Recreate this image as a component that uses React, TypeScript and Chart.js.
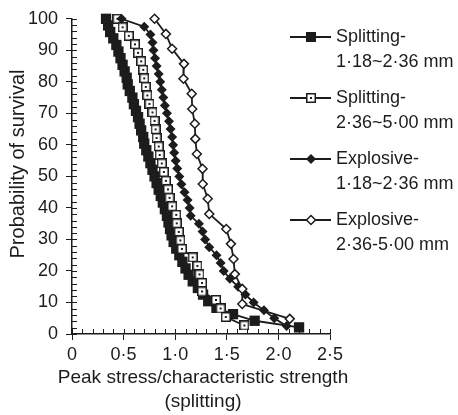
import React, { useEffect, useRef } from 'react';
import { Chart, registerables } from 'chart.js';
Chart.register(...registerables);

const FONT = '"Liberation Sans", Arial, sans-serif';
const INK = '#1c1c1c';

// Splitting 1·18~2·36 mm (filled squares)
const splitSmallX = [0.33, 0.35, 0.37, 0.40, 0.43, 0.45, 0.47, 0.49, 0.51, 0.53,
  0.54, 0.56, 0.585, 0.60, 0.62, 0.64, 0.655, 0.67, 0.69, 0.70,
  0.72, 0.74, 0.76, 0.78, 0.80, 0.82, 0.84, 0.86, 0.88, 0.90,
  0.92, 0.935, 0.95, 0.965, 0.985, 1.01, 1.04, 1.07, 1.10, 1.13,
  1.17, 1.22, 1.27, 1.32, 1.40, 1.56, 1.77, 2.20];
const splitSmallP = [100, 97.9, 95.8, 93.8, 91.7, 89.6, 87.5, 85.4, 83.3, 81.3,
  79.2, 77.1, 75, 72.9, 70.8, 68.8, 66.7, 64.6, 62.5, 60.4,
  58.3, 56.3, 54.2, 52.1, 50, 47.9, 45.8, 43.8, 41.7, 39.6,
  37.5, 35.4, 33.3, 31.3, 29.2, 27.1, 25, 22.9, 20.8, 18.8,
  16.7, 14.6, 12.5, 10.4, 8.3, 6.3, 4.2, 2.1];

// Splitting 2·36~5·00 mm (open squares)
const splitLargeX = [0.44, 0.49, 0.55, 0.61, 0.64, 0.67, 0.69, 0.70, 0.715, 0.73,
  0.75, 0.78, 0.80, 0.81, 0.82, 0.84, 0.85, 0.87, 0.89, 0.91,
  0.93, 0.945, 0.97, 1.01, 1.015, 1.035, 1.05, 1.065, 1.17, 1.215,
  1.235, 1.26, 1.26, 1.395, 1.44, 1.49, 1.67];
const splitLargeP = [100, 97.3, 94.6, 91.9, 89.2, 86.5, 83.8, 81.1, 78.4, 75.7,
  73, 70.3, 67.6, 64.9, 62.2, 59.5, 56.8, 54.1, 51.4, 48.6,
  45.9, 43.2, 40.5, 37.8, 35.1, 32.4, 29.7, 27, 24.3, 21.6,
  18.9, 16.2, 13.5, 10.8, 8.1, 5.4, 2.7];

// Explosive 1·18~2·36 mm (filled diamonds)
const explSmallX = [0.48, 0.70, 0.76, 0.78, 0.79, 0.805, 0.82, 0.84, 0.855, 0.87,
  0.885, 0.90, 0.92, 0.94, 0.955, 0.97, 0.98, 0.99, 1.005, 1.02,
  1.04, 1.06, 1.09, 1.12, 1.14, 1.15, 1.23, 1.265, 1.29, 1.33,
  1.40, 1.44, 1.47, 1.53, 1.61, 1.68, 1.76, 1.86, 1.96, 2.08];
const explSmallP = [100, 97.5, 95, 92.5, 90, 87.5, 85, 82.5, 80, 77.5,
  75, 72.5, 70, 67.5, 65, 62.5, 60, 57.5, 55, 52.5,
  50, 47.5, 45, 42.5, 40, 37.5, 35, 32.5, 30, 27.5,
  25, 22.5, 20, 17.5, 15, 12.5, 10, 7.5, 5, 2.5];

// Explosive 2·36-5·00 mm (open diamonds)
const explLargeX = [0.80, 0.91, 0.97, 1.085, 1.08, 1.16, 1.165, 1.19, 1.195, 1.21,
  1.265, 1.267, 1.315, 1.33, 1.495, 1.54, 1.565, 1.578, 1.65, 1.65, 2.11];
const explLargeP = [100, 95.2, 90.5, 85.7, 81, 76.2, 71.4, 66.7, 61.9, 57.1,
  52.4, 47.6, 42.9, 38.1, 33.3, 28.6, 23.8, 19, 14.3, 9.5, 4.8];

const legendLines = [
  ['Splitting-', '1·18~2·36 mm'],
  ['Splitting-', '2·36~5·00 mm'],
  ['Explosive-', '1·18~2·36 mm'],
  ['Explosive-', '2·36-5·00 mm'],
];

const xTitle = ['Peak stress/characteristic strength', '(splitting)'];
const yTitle = 'Probability of survival';

function openSquare(): HTMLCanvasElement {
  const c = document.createElement('canvas');
  c.width = 10; c.height = 10;
  const g = c.getContext('2d')!;
  g.fillStyle = '#fff';
  g.fillRect(0, 0, 10, 10);
  g.strokeStyle = INK;
  g.lineWidth = 1.5;
  g.strokeRect(0.75, 0.75, 8.5, 8.5);
  g.fillStyle = INK;
  g.fillRect(4, 4, 2, 2);
  return c;
}

const pts = (xs: number[], ps: number[]) => xs.map((x, i) => ({ x, y: ps[i] }));

export default function App() {
  const ref = useRef<HTMLCanvasElement | null>(null);
  useEffect(() => {
    if (!ref.current) return;
    const sq = openSquare();
    const styles = [
      { pointStyle: 'rect', pointRadius: 7.3, bg: INK, bw: 0 },
      { pointStyle: sq, pointRadius: 5, bg: '#fff', bw: 0 },
      { pointStyle: 'rectRot', pointRadius: 5, bg: INK, bw: 0 },
      { pointStyle: 'rectRot', pointRadius: 4.5, bg: '#fff', bw: 1.5 },
    ];
    const series = [
      pts(splitSmallX, splitSmallP),
      pts(splitLargeX, splitLargeP),
      pts(explSmallX, explSmallP),
      pts(explLargeX, explLargeP),
    ];
    const orders = [4, 3, 2, 1];

    const extras = {
      id: 'extras',
      afterDraw(chart: any) {
        const ctx = chart.ctx;
        const xs = chart.scales.x;
        const ys = chart.scales.y;
        const area = chart.chartArea;
        ctx.save();
        ctx.strokeStyle = INK;
        ctx.lineWidth = 1;
        ctx.beginPath();
        for (let v = 0; v <= 100; v += 2) {
          const y = Math.round(ys.getPixelForValue(v)) + 0.5;
          ctx.moveTo(area.left, y);
          ctx.lineTo(area.left + 5, y);
        }
        for (let i = 0; i <= 25; i++) {
          const x = Math.round(xs.getPixelForValue(i / 10)) + 0.5;
          ctx.moveTo(x, area.bottom);
          ctx.lineTo(x, area.bottom - 5);
        }
        ctx.stroke();

        // axis titles
        ctx.fillStyle = INK;
        ctx.textAlign = 'center';
        ctx.textBaseline = 'middle';
        ctx.font = `19px ${FONT}`;
        const cx = (area.left + area.right) / 2 + 2;
        ctx.fillText(xTitle[0], cx, 378);
        ctx.fillText(xTitle[1], cx, 402);
        ctx.save();
        ctx.font = `20px ${FONT}`;
        ctx.translate(18, 164);
        ctx.rotate(-Math.PI / 2);
        ctx.fillText(yTitle, 0, 0);
        ctx.restore();

        // legend
        ctx.font = `18px ${FONT}`;
        ctx.fillStyle = INK;
        ctx.textBaseline = 'middle';
        ctx.textAlign = 'left';
        for (let i = 0; i < 4; i++) {
          const y0 = 37 + 61 * i;
          ctx.strokeStyle = INK;
          ctx.lineWidth = 2;
          ctx.beginPath();
          ctx.moveTo(290, y0);
          ctx.lineTo(331, y0);
          ctx.stroke();
          const st = styles[i];
          const mx = 311;
          if (i === 0) {
            ctx.fillStyle = INK;
            ctx.fillRect(mx - 5, y0 - 5, 10, 10);
          } else if (i === 1) {
            ctx.drawImage(sq, mx - 5, y0 - 5);
          } else {
            const r = st.pointRadius as number;
            ctx.beginPath();
            ctx.moveTo(mx, y0 - r);
            ctx.lineTo(mx + r, y0);
            ctx.lineTo(mx, y0 + r);
            ctx.lineTo(mx - r, y0);
            ctx.closePath();
            ctx.fillStyle = st.bg;
            ctx.fill();
            if (st.bw) {
              ctx.lineWidth = st.bw;
              ctx.strokeStyle = INK;
              ctx.stroke();
            }
          }
          ctx.fillStyle = INK;
          ctx.fillText(legendLines[i][0], 336, y0);
          ctx.fillText(legendLines[i][1], 336, y0 + 25);
        }
        ctx.restore();
      },
    };

    const chart = new Chart(ref.current, {
      type: 'line',
      data: {
        datasets: series.map((d, i) => ({
          label: legendLines[i].join(' '),
          data: d,
          borderColor: INK,
          borderWidth: 1.8,
          tension: 0,
          pointStyle: styles[i].pointStyle as any,
          pointRadius: styles[i].pointRadius,
          pointBackgroundColor: styles[i].bg,
          pointBorderColor: INK,
          pointBorderWidth: styles[i].bw,
          order: orders[i],
          clip: false as any,
        })),
      },
      options: {
        animation: false,
        responsive: true,
        maintainAspectRatio: false,
        layout: { padding: { top: 18, right: 128, left: 0, bottom: 0 } },
        plugins: { legend: { display: false }, tooltip: { enabled: false } },
        scales: {
          x: {
            type: 'linear',
            min: 0,
            max: 2.5,
            afterFit: (s: any) => { s.height = 81; },
            ticks: {
              stepSize: 0.5,
              color: INK,
              font: { size: 18, family: FONT },
              padding: 4,
              maxRotation: 0,
              callback: (v: any) => (Number(v) === 0 ? '0' : Number(v).toFixed(1).replace('.', '·')),
            },
            grid: { drawOnChartArea: false, drawTicks: true, tickLength: 6, color: INK, lineWidth: 1 },
            border: { color: INK, width: 1.5 },
            title: { display: false },
          },
          y: {
            type: 'linear',
            min: 0,
            max: 100,
            afterFit: (s: any) => { s.width = 72; },
            ticks: {
              stepSize: 10,
              color: INK,
              font: { size: 18, family: FONT },
              padding: 8,
            },
            grid: { drawOnChartArea: false, drawTicks: true, tickLength: 6, color: INK, lineWidth: 1 },
            border: { color: INK, width: 1.5 },
            title: { display: false },
          },
        },
      },
      plugins: [extras],
    });
    return () => chart.destroy();
  }, []);

  return (
    <div style={{ position: 'fixed', left: 0, top: 0, width: 458, height: 415, background: '#fff' }}>
      <canvas ref={ref} />
    </div>
  );
}
